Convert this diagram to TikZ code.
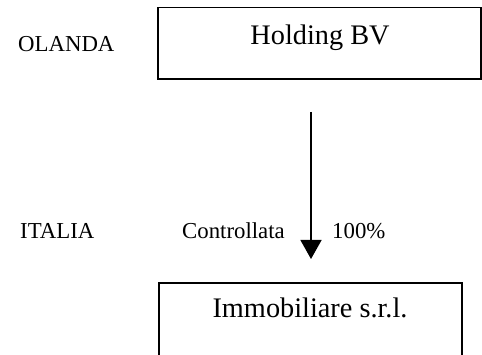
\documentclass[tikz,border=0pt]{standalone}
\usepackage{fontspec}
\setmainfont{Liberation Serif}
\usetikzlibrary{arrows.meta}
\begin{document}
\begin{tikzpicture}[x=1pt,y=1pt,
  boxstyle/.style={draw=black,line width=1.4pt,inner sep=0pt},
  bigtext/.style={font=\fontsize{28.3}{30}\selectfont,anchor=base,inner sep=0pt},
  smalltext/.style={font=\fontsize{22.8}{25}\selectfont,anchor=base west,inner sep=0pt},
  linkarrow/.style={line width=1.4pt,-{Triangle[width=21pt,length=19pt]}}]
\useasboundingbox (0,0) rectangle (482,-355);
\clip (0,0) rectangle (482,-355);
% boxes
\node[boxstyle,minimum width=323pt,minimum height=71.5pt] (hold) at (319.5,-43.25) {};
\node[boxstyle,minimum width=303pt,minimum height=90pt] (imm) at (310.5,-328) {};
% box texts
\node[bigtext] (holdtxt) at (320,-45) {Holding BV};
\node[bigtext] (immtxt) at (310,-318) {Immobiliare s.r.l.};
% side labels
\node[smalltext] (olanda) at (18,-51.5) {OLANDA};
\node[smalltext] (italia) at (20,-238.5) {ITALIA};
\node[smalltext] (contr) at (182,-238.5) {Controllata};
\node[smalltext] (perc) at (332,-238.5) {100\%};
% arrow
\coordinate (astart) at (311,-112);
\coordinate (aend) at (311,-259);
\draw[linkarrow] (astart) -- (aend);
\end{tikzpicture}
\end{document}
